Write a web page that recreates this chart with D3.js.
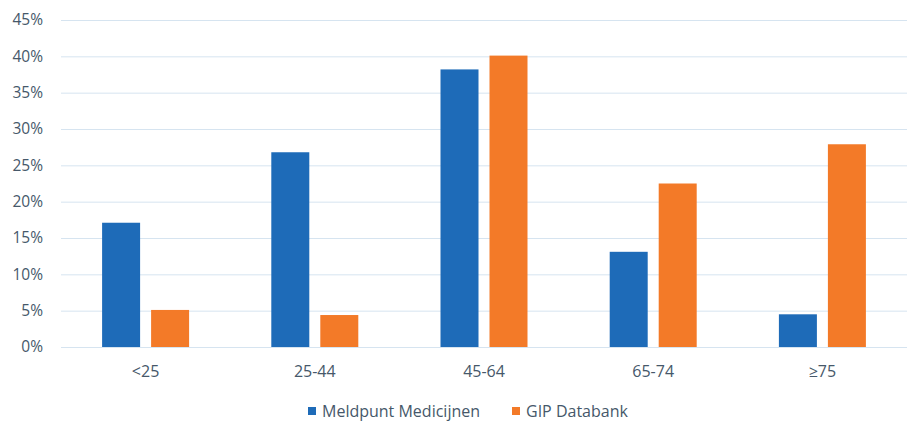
<!DOCTYPE html>
<html>
<head>
<meta charset="utf-8">
<script src="https://cdn.jsdelivr.net/npm/d3@7"></script>
<style>
  body { margin: 0; background: #fff; overflow: hidden; }
  svg { display: block; }
  svg text { font-family: 'Open Sans', sans-serif; fill: #46586a; }
  .grid line { stroke: #d6e4f0; stroke-width: 1; }
  .grid .domain { display: none; }
</style>
</head>
<body>
<div id="chart"></div>
<script>
const categories = ['<25', '25-44', '45-64', '65-74', '\u226575']
const seriesNames = ['Meldpunt Medicijnen', 'GIP Databank']
const meldpunt = [17.1, 26.8, 38.2, 13.1, 4.5]
const gip = [5.1, 4.4, 40.1, 22.5, 27.9]
const yTicks = [0, 5, 10, 15, 20, 25, 30, 35, 40, 45]
const colors = ['#1e6bb8', '#f37a28']

const width = 912
const height = 422
const margin = { top: 20, right: 5, bottom: 75, left: 61 }
const innerWidth = width - margin.left - margin.right
const innerHeight = height - margin.top - margin.bottom

const svg = d3.select('#chart')
  .append('svg')
    .attr('width', width)
    .attr('height', height)

const g = svg.append('g')
  .attr('transform', `translate(${margin.left} ${margin.top})`)

// SCALES
const x0 = d3.scaleBand()
  .domain(categories)
  .range([0, innerWidth])

const x1 = d3.scaleBand()
  .domain(seriesNames)
  .range([(x0.bandwidth() - 87) / 2, (x0.bandwidth() + 87) / 2])
  .paddingInner(0.2245)

const y = d3.scaleLinear()
  .domain([0, 45])
  .range([innerHeight, 0])

// GRID
g.append('g')
  .attr('class', 'grid')
  .call(d3.axisLeft(y).tickValues(yTicks).tickSize(-innerWidth).tickFormat(''))
  .call(a => a.selectAll('text').remove())

// Y LABELS
g.append('g')
  .selectAll('text')
  .data(yTicks)
  .enter().append('text')
  .attr('x', -18)
  .attr('y', d => y(d))
  .attr('dy', '0.35em')
  .attr('text-anchor', 'end')
  .style('font-size', '15.5px')
  .text(d => `${d}%`)

// BARS
const rows = categories.map((c, i) => ({ cat: c, values: [meldpunt[i], gip[i]] }))

g.append('g')
  .selectAll('g')
  .data(rows)
  .enter().append('g')
  .attr('transform', d => `translate(${x0(d.cat)} 0)`)
  .selectAll('rect')
  .data(d => d.values.map((v, i) => ({ name: seriesNames[i], v, i })))
  .enter().append('rect')
  .attr('x', d => x1(d.name))
  .attr('y', d => y(d.v))
  .attr('width', x1.bandwidth())
  .attr('height', d => innerHeight - y(d.v))
  .attr('fill', d => colors[d.i])

// X LABELS
g.append('g')
  .selectAll('text')
  .data(categories)
  .enter().append('text')
  .attr('x', d => x0(d) + x0.bandwidth() / 2)
  .attr('y', innerHeight + 24)
  .attr('dy', '0.35em')
  .attr('text-anchor', 'middle')
  .style('font-size', '16px')
  .text(d => d)

// LEGEND
const legendX = [308, 512]
const legend = svg.append('g')
  .selectAll('g')
  .data(seriesNames)
  .enter().append('g')
  .attr('transform', (d, i) => `translate(${legendX[i]} 411)`)

legend.append('rect')
  .attr('y', -4)
  .attr('width', 8)
  .attr('height', 8)
  .attr('fill', (d, i) => colors[i])

legend.append('text')
  .attr('x', 14)
  .attr('dy', '0.35em')
  .style('font-size', '16px')
  .text(d => d)
</script>
</body>
</html>
